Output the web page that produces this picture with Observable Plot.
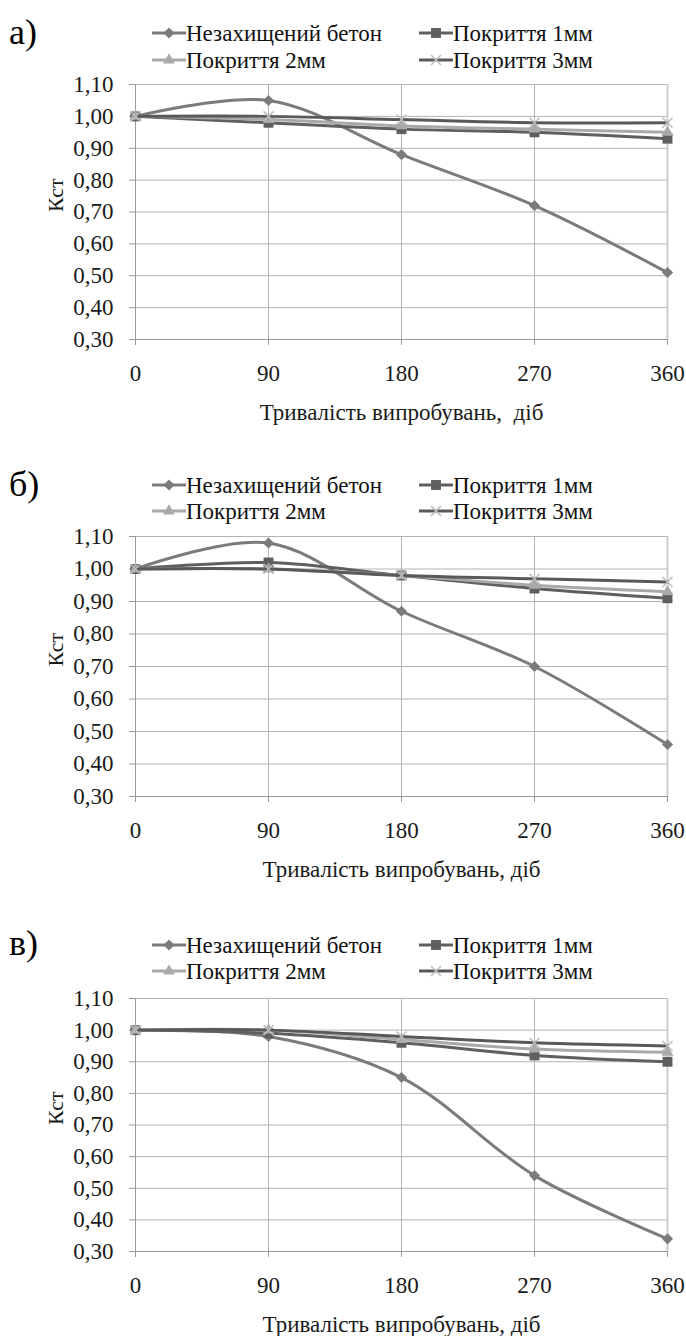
<!DOCTYPE html>
<html><head><meta charset="utf-8">
<script src="https://cdn.jsdelivr.net/npm/d3@7"></script>
<script src="https://cdn.jsdelivr.net/npm/@observablehq/plot@0.6"></script>
<style>
body{margin:0;background:#fff;}
#root{position:relative;width:686px;height:1336px;font-family:'Liberation Serif',serif;color:#000;overflow:hidden;background:#fff}
.panel-label{position:absolute;font-family:'Liberation Serif',serif;font-size:36px;line-height:1;}
.legend-item{position:absolute;display:flex;align-items:center;font-family:'Liberation Serif',serif;font-size:23px;white-space:nowrap;line-height:1;color:#111}
svg.chart{position:absolute;left:0;overflow:visible}
</style></head><body><div id="root"></div>
<script>
// ---- data ----
const days = [0, 90, 180, 270, 360];
const seriesNames = ["Незахищений бетон", "Покриття 1мм", "Покриття 2мм", "Покриття 3мм"];
const yTicks = [0.3, 0.4, 0.5, 0.6, 0.7, 0.8, 0.9, 1.0, 1.1];
const panelLabels = ["а)", "б)", "в)"];
const xTitles = ["Тривалість випробувань,\u00a0 діб", "Тривалість випробувань, діб", "Тривалість випробувань, діб"];
const yTitle = "Кст";

const a_unprotected = [1.00, 1.05, 0.88, 0.72, 0.51];
const a_1mm = [1.00, 0.98, 0.96, 0.95, 0.93];
const a_2mm = [1.00, 0.99, 0.97, 0.96, 0.95];
const a_3mm = [1.00, 1.00, 0.99, 0.98, 0.98];

const b_unprotected = [1.00, 1.08, 0.87, 0.70, 0.46];
const b_1mm = [1.00, 1.02, 0.98, 0.94, 0.91];
const b_2mm = [1.00, 1.00, 0.98, 0.95, 0.93];
const b_3mm = [1.00, 1.00, 0.98, 0.97, 0.96];

const c_unprotected = [1.00, 0.98, 0.85, 0.54, 0.34];
const c_1mm = [1.00, 0.99, 0.96, 0.92, 0.90];
const c_2mm = [1.00, 1.00, 0.97, 0.94, 0.93];
const c_3mm = [1.00, 1.00, 0.98, 0.96, 0.95];

// ---- styles ----
const lineColors = ["#7b7b7b", "#5f5f5f", "#a9a9a9", "#595959"];
const markerColors = ["#7b7b7b", "#5f5f5f", "#a9a9a9", "#bdbdbd"];
const symbols = ["diamond2", "square", "triangle", "times"];
const symbolR = [5, 5.6, 4.4, 4.6];
const gridColor = "#b3b3b3";
const fontFamily = "Liberation Serif, serif";
const fmt = v => d3.format(".2f")(v).replace(".", ",");

const panels = [
  {values: [a_unprotected, a_1mm, a_2mm, a_3mm], y110: 84, y030: 339, labelY: 34, leg1: 33, leg2: 60},
  {values: [b_unprotected, b_1mm, b_2mm, b_3mm], y110: 536, y030: 796, labelY: 486, leg1: 485, leg2: 511},
  {values: [c_unprotected, c_1mm, c_2mm, c_3mm], y110: 998, y030: 1251, labelY: 945, leg1: 945, leg2: 971}
];

const root = document.getElementById("root");
const d3sym = {diamond2: d3.symbolDiamond2, square: d3.symbolSquare, triangle: d3.symbolTriangle, times: d3.symbolTimes};

function swatch(i, w) {
  const ns = "http://www.w3.org/2000/svg";
  const s = document.createElementNS(ns, "svg");
  s.setAttribute("width", w); s.setAttribute("height", 16);
  s.style.flex = "none";
  const l = document.createElementNS(ns, "line");
  l.setAttribute("x1", 0); l.setAttribute("x2", w); l.setAttribute("y1", 8); l.setAttribute("y2", 8);
  l.setAttribute("stroke", lineColors[i]); l.setAttribute("stroke-width", 3);
  s.appendChild(l);
  const p = document.createElementNS(ns, "path");
  const r = symbolR[i];
  p.setAttribute("d", d3.symbol(d3sym[symbols[i]], Math.PI * r * r)());
  p.setAttribute("transform", `translate(${w / 2},8)`);
  if (symbols[i] === "times") { p.setAttribute("fill", "none"); p.setAttribute("stroke", markerColors[i]); p.setAttribute("stroke-width", 1.5); }
  else p.setAttribute("fill", markerColors[i]);
  s.appendChild(p);
  return s;
}

panels.forEach((p, pi) => {
  const lab = document.createElement("div");
  lab.className = "panel-label";
  lab.textContent = panelLabels[pi];
  lab.style.left = "9px";
  lab.style.top = (p.labelY - 20) + "px";
  root.appendChild(lab);

  const legPos = [[152, p.leg1], [419, p.leg1], [152, p.leg2], [419, p.leg2]];
  seriesNames.forEach((name, i) => {
    const it = document.createElement("div");
    it.className = "legend-item";
    it.style.left = legPos[i][0] + "px";
    it.style.top = (legPos[i][1] - 12) + "px";
    it.style.height = "24px";
    it.appendChild(swatch(i, 34));
    const t = document.createElement("span");
    t.textContent = name;
    it.appendChild(t);
    root.appendChild(it);
  });

  const data = [];
  seriesNames.forEach((name, i) => p.values[i].forEach((v, j) => data.push({series: name, idx: i, day: days[j], k: v})));

  const mt = 14, mb = 92;
  const h = p.y030 - p.y110;
  const marks = [
    Plot.gridY(yTicks, {stroke: gridColor, strokeOpacity: 1}),
    Plot.gridX([90, 180, 270], {stroke: gridColor, strokeOpacity: 1}),
    Plot.ruleX([360], {y1: 0.3, y2: 1.1, stroke: "#cfcfcf", strokeWidth: 2}),
    Plot.ruleX([0], {y1: 0.3, y2: 1.1, stroke: "#9a9a9a"}),
    Plot.ruleY([0.3], {x1: 0, x2: 360, stroke: "#9a9a9a"}),
    Plot.axisY(yTicks, {tickSize: 6, tickPadding: 16, tickFormat: fmt, stroke: "#9a9a9a", fill: "#1a1a1a", fontSize: 23, fontFamily, label: null}),
    Plot.axisX(days, {tickSize: 6, tickPadding: 19, tickFormat: d => String(d), stroke: "#9a9a9a", fill: "#1a1a1a", fontSize: 23, fontFamily, label: null}),
    Plot.text([yTitle], {frameAnchor: "left", dx: -80, rotate: -90, fontSize: 22, fontFamily, fill: "#1a1a1a"}),
    Plot.text([xTitles[pi]], {frameAnchor: "bottom", dy: 73, lineAnchor: "middle", fontSize: 23, fontFamily, fill: "#1a1a1a"})
  ];
  seriesNames.forEach((name, i) => {
    const sd = data.filter(d => d.idx === i);
    marks.push(Plot.line(sd, {x: "day", y: "k", stroke: lineColors[i], strokeWidth: 3, curve: "catmull-rom"}));
    if (symbols[i] === "times")
      marks.push(Plot.dot(sd, {x: "day", y: "k", symbol: symbols[i], r: symbolR[i], stroke: markerColors[i], strokeWidth: 1.5, fill: "none"}));
    else
      marks.push(Plot.dot(sd, {x: "day", y: "k", symbol: symbols[i], r: symbolR[i], fill: markerColors[i], stroke: "none"}));
  });

  const chart = Plot.plot({
    width: 686,
    height: mt + h + mb,
    marginTop: mt, marginBottom: mb, marginLeft: 135, marginRight: 19,
    x: {domain: [0, 360]},
    y: {domain: [0.3, 1.1]},
    style: {fontFamily, fontSize: "23px", background: "transparent", overflow: "visible"},
    marks
  });
  chart.classList.add("chart");
  chart.style.top = (p.y110 - mt) + "px";
  root.appendChild(chart);
});
</script>
</body></html>
